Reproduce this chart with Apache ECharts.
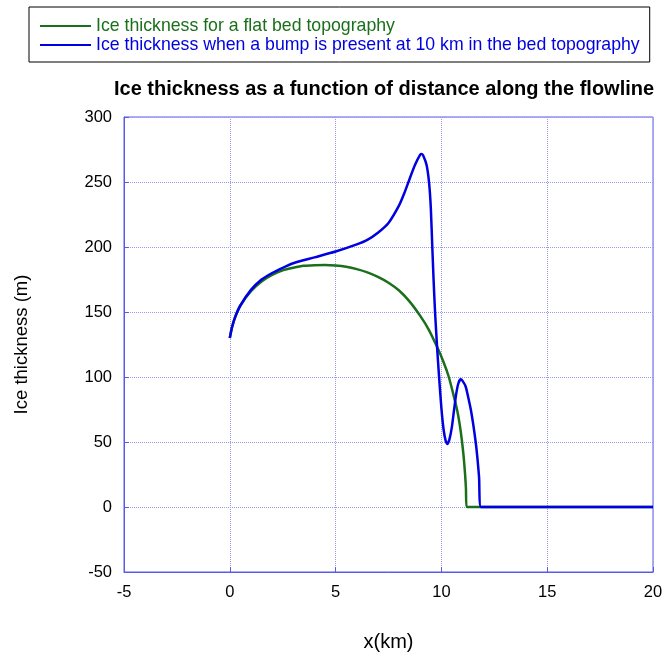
<!DOCTYPE html>
<html>
<head>
<meta charset="utf-8">
<script src="https://cdn.jsdelivr.net/npm/echarts@6/dist/echarts.min.js"></script>
<style>
  html, body { margin: 0; padding: 0; background: #fff; }
  #chart { width: 666px; height: 657px; }
</style>
</head>
<body>
<div id="chart"></div>
<script>
// distance along the flowline (km) and ice thickness (m)
var flatX = [0, 0.1, 0.25, 0.5, 1, 1.5, 2, 2.5, 3, 3.5, 4, 4.5, 5, 5.5, 6, 6.5, 7, 7.5, 8, 8.5, 9, 9.4, 9.8, 10.1, 10.35, 10.56, 10.75, 10.87, 10.97, 11.05, 11.12, 11.16, 11.19, 20];
var flatH = [130, 138, 146, 155, 166, 173.5, 178.5, 182, 184, 185.5, 186, 186.2, 185.8, 184.8, 183, 180.5, 177, 172.5, 166.5, 158, 147, 136.5, 123, 111.5, 100, 87, 74, 63, 51, 39, 25, 14, 0, 0];

var bumpX = [0, 0.1, 0.25, 0.5, 1, 1.5, 2, 2.5, 3, 4, 5, 6, 6.5, 7, 7.5, 8, 8.25, 8.5, 8.75, 9, 9.07, 9.15, 9.3, 9.42, 9.5, 9.57, 9.63, 9.7, 9.8, 9.89, 10, 10.1, 10.2, 10.28, 10.38, 10.5, 10.6, 10.7, 10.8, 10.91, 11, 11.15, 11.3, 11.39, 11.5, 11.62, 11.7, 11.78, 11.87, 20];
var bumpH = [130, 138, 146, 155, 167, 175, 180, 184, 187.5, 192, 196.5, 202, 205.5, 211, 218.5, 232, 241.5, 252.5, 263, 271, 271.5, 270, 263, 249, 230, 200, 175, 150, 122, 100, 76, 60, 51, 48.5, 52, 62, 75, 87, 95, 98.2, 97, 92.5, 82, 75, 64, 50, 38, 23, 0, 0];

var flatName = "Ice thickness for a flat bed topography";
var bumpName = "Ice thickness when a bump is present at 10 km in the bed topography";

function pairs(xs, ys) {
  var out = [];
  for (var i = 0; i < xs.length; i++) out.push([xs[i], ys[i]]);
  return out;
}

var myChart = echarts.init(document.getElementById("chart"));
var axisBlue = "#5a5ae8";
var option = {
  backgroundColor: "#fff",
  animation: false,
  title: {
    text: "Ice thickness as a function of distance along the flowline",
    left: 109,
    top: 74,
    textStyle: { fontFamily: "Liberation Sans", fontSize: 20, fontWeight: "bold", color: "#000" }
  },
  legend: {
    orient: "vertical",
    left: 29,
    top: 7,
    width: 613,
    padding: [10, 10, 8, 11],
    itemGap: 1,
    itemWidth: 51,
    itemHeight: 2,
    borderColor: "#000",
    borderWidth: 1,
    icon: "rect",
    textStyle: { fontFamily: "Liberation Sans", fontSize: 17.7 },
    data: [
      { name: flatName, textStyle: { color: "#1a701a" } },
      { name: bumpName, textStyle: { color: "#0000e0" } }
    ]
  },
  grid: {
    left: 124,
    right: 13,
    top: 117,
    bottom: 83,
    show: true,
    borderColor: axisBlue,
    borderWidth: 1
  },
  xAxis: {
    type: "value",
    min: -5,
    max: 20,
    interval: 5,
    name: "x(km)",
    nameLocation: "middle",
    nameGap: 60,
    nameTextStyle: { fontFamily: "Liberation Sans", fontSize: 20, color: "#000" },
    axisLine: { onZero: false, lineStyle: { color: axisBlue } },
    axisTick: { inside: true, length: 5, lineStyle: { color: axisBlue } },
    axisLabel: { fontFamily: "Liberation Sans", fontSize: 16.5, color: "#000", margin: 12 },
    splitLine: { lineStyle: { color: "#9a9af5", type: "dotted" } }
  },
  yAxis: {
    type: "value",
    min: -50,
    max: 300,
    interval: 50,
    name: "Ice thickness (m)",
    nameLocation: "middle",
    nameGap: 93,
    nameTextStyle: { fontFamily: "Liberation Sans", fontSize: 18.5, color: "#000" },
    axisLine: { show: true, onZero: false, lineStyle: { color: axisBlue } },
    axisTick: { show: true, inside: true, length: 5, lineStyle: { color: axisBlue } },
    axisLabel: { fontFamily: "Liberation Sans", fontSize: 16.5, color: "#000", margin: 12 },
    splitLine: { lineStyle: { color: "#9a9af5", type: "dotted" } }
  },
  series: [
    {
      name: flatName,
      type: "line",
      data: pairs(flatX, flatH),
      showSymbol: false,
      smooth: 0.2,
      lineStyle: { color: "#1a701a", width: 2.5 },
      itemStyle: { color: "#1a701a" }
    },
    {
      name: bumpName,
      type: "line",
      data: pairs(bumpX, bumpH),
      showSymbol: false,
      smooth: 0.2,
      lineStyle: { color: "#0000e0", width: 2.5 },
      itemStyle: { color: "#0000e0" }
    }
  ]
};
myChart.setOption(option);
</script>
</body>
</html>
